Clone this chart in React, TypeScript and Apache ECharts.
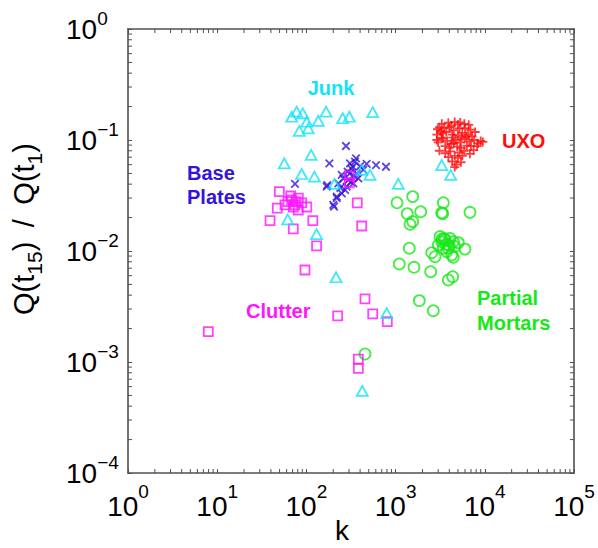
import React, { useEffect, useRef } from 'react';
import * as echarts from 'echarts';

// ---------- data ----------
const junkK = [77.8, 68.4, 91, 101, 136, 166, 255, 303, 554, 83.2, 105, 56.5, 113, 88.5, 123, 206, 417, 516, 1072, 61.7, 130, 3289, 4150, 794, 215, 423];
const junkQ = [0.18, 0.162, 0.174, 0.146, 0.149, 0.18, 0.157, 0.162, 0.178, 0.121, 0.127, 0.0617, 0.0733, 0.0494, 0.0467, 0.0402, 0.0537, 0.0484, 0.0402, 0.0193, 0.0142, 0.0595, 0.0484, 0.00275, 0.0058, 0.00055];

const basePlateK = [278, 181, 360, 308, 330, 474, 603, 780, 74.5, 171, 249, 283, 336, 382, 249, 219, 204, 271, 308, 366, 434, 228, 295, 169, 200, 219, 320, 345, 290, 260, 400, 315, 240, 350];
const basePlateQ = [0.0883, 0.0617, 0.0684, 0.0617, 0.0574, 0.0608, 0.0595, 0.0574, 0.0402, 0.0393, 0.0484, 0.038, 0.0407, 0.0452, 0.0331, 0.0299, 0.0251, 0.0355, 0.0501, 0.0501, 0.0537, 0.0407, 0.0436, 0.038, 0.026, 0.0309, 0.055, 0.047, 0.052, 0.045, 0.058, 0.042, 0.037, 0.064];

const clutterK = [49.7, 66.7, 47.2, 39.1, 71.3, 76.4, 88.5, 101, 71.3, 81.1, 118, 372, 417, 303, 303, 130, 96.4, 454, 224, 554, 807, 382, 382, 7.95, 74.5, 81.1, 68.4, 62.2, 57.5];
const clutterQ = [0.0342, 0.0313, 0.0243, 0.0188, 0.0158, 0.0278, 0.0271, 0.0249, 0.0249, 0.0234, 0.0188, 0.0271, 0.0168, 0.0474, 0.0412, 0.0111, 0.00674, 0.0037, 0.0026, 0.00271, 0.00231, 0.00106, 0.000877, 0.00188, 0.026, 0.0299, 0.0288, 0.0278, 0.026];

const mortarK = [1037, 1555, 1352, 1911, 1555, 1449, 3428, 3289, 3373, 6823, 1425, 1100, 1608, 2473, 2541, 2765, 3148, 3581, 4074, 4436, 5047, 5998, 3012, 3428, 3899, 4256, 4436, 3741, 3289, 3899, 4365, 1845, 2648, 454, 3700, 4000, 3500, 3300, 4600];
const mortarQ = [0.0272, 0.0309, 0.0217, 0.0226, 0.0184, 0.0174, 0.0272, 0.0221, 0.0217, 0.0223, 0.0106, 0.00764, 0.00713, 0.00651, 0.00965, 0.00889, 0.0135, 0.0126, 0.013, 0.0121, 0.0119, 0.0104, 0.0113, 0.0106, 0.0106, 0.0092, 0.00878, 0.00986, 0.0121, 0.00548, 0.00587, 0.00357, 0.0029, 0.00118, 0.0115, 0.0112, 0.013, 0.0128, 0.011];

const uxoK = [
  3300, 3900, 4600, 5300, 5900, 6600, 4200, 5000,
  2950, 3100, 3500, 4000, 4500, 5200, 6000, 6900, 7800, 3300, 4300, 5600, 6500, 2900,
  2900, 3000, 3400, 3800, 4200, 4700, 5300, 5900, 6700, 7600, 8400, 9500, 9000, 3600, 4900, 6300, 8200,
  3100, 3600, 4100, 4600, 5200, 5900, 6800, 7500, 3900, 5000, 5600,
  4300, 4800, 5400, 4600,
  3200, 3700, 4400, 5000, 5500, 6200, 7200, 4000, 5400, 7000, 4500, 3300,
];
const uxoQ = [
  0.14, 0.143, 0.145, 0.144, 0.14, 0.137, 0.135, 0.138,
  0.125, 0.13, 0.128, 0.13, 0.122, 0.127, 0.128, 0.124, 0.118, 0.115, 0.112, 0.116, 0.112, 0.112,
  0.1, 0.095, 0.103, 0.098, 0.092, 0.1, 0.095, 0.102, 0.097, 0.1, 0.093, 0.096, 0.098, 0.088, 0.087, 0.089, 0.088,
  0.08, 0.076, 0.079, 0.072, 0.077, 0.08, 0.075, 0.081, 0.07, 0.069, 0.072,
  0.064, 0.06, 0.063, 0.057,
  0.12, 0.118, 0.105, 0.11, 0.106, 0.108, 0.108, 0.085, 0.085, 0.088, 0.094, 0.105,
];

// axis ranges and minor-tick layout
const X_MIN = 1;
const X_MAX = 100000;
const Y_MIN = 0.0001;
const Y_MAX = 1;
const MINOR_MULT = [2, 3, 4, 5, 6, 7, 8, 9];
const X_DECADES = [1, 10, 100, 1000, 10000];
const Y_DECADES = [0.0001, 0.001, 0.01, 0.1];

const FONT = '"Liberation Sans", Arial, Helvetica, sans-serif';
const C_JUNK = '#10e4f6';
const C_BASE = '#3514da';
const C_CLUT = '#ff14ff';
const C_MORT = '#18e818';
const C_UXO = '#ff0c0c';
const AXIS_C = '#505050';
const MARK_W = 1.8;

const zip = (a: number[], b: number[]) => a.map((v, i) => [v, b[i]]);

const supFmt = (value: number) => {
  const e = Math.round(Math.log10(value));
  const s = e < 0 ? '\u2212' + -e : String(e);
  return `{b|10}{s|${s}}`;
};

export default function App() {
  const ref = useRef<HTMLDivElement>(null);

  useEffect(() => {
    if (!ref.current) return;
    const chart = echarts.init(ref.current, undefined, { renderer: 'svg' });

    const xMinor: number[][] = [];
    X_DECADES.forEach((d) => MINOR_MULT.forEach((m) => xMinor.push([m * d, 1])));
    const yMinor: number[][] = [];
    Y_DECADES.forEach((d) => MINOR_MULT.forEach((m) => yMinor.push([1, m * d])));

    const tickLen = 4;
    const tickStyle = { stroke: AXIS_C, lineWidth: 1 };

    const baseAxisX = {
      type: 'log',
      logBase: 10,
      min: X_MIN,
      max: X_MAX,
      splitNumber: 5,
      axisLine: { show: true, onZero: false, lineStyle: { color: AXIS_C, width: 1.6 } },
      axisTick: { show: true, inside: true, length: tickLen, lineStyle: { color: AXIS_C, width: 1 } },
      splitLine: { show: false },
      minorTick: { show: false },
    };
    const baseAxisY = {
      type: 'log',
      logBase: 10,
      min: Y_MIN,
      max: Y_MAX,
      splitNumber: 4,
      axisLine: { show: true, onZero: false, lineStyle: { color: AXIS_C, width: 1.6 } },
      axisTick: { show: true, inside: true, length: tickLen, lineStyle: { color: AXIS_C, width: 1 } },
      splitLine: { show: false },
      minorTick: { show: false },
    };

    const scatterBase = { type: 'scatter', xAxisIndex: 0, yAxisIndex: 0, silent: true };

    const option: any = {
      animation: false,
      backgroundColor: '#ffffff',
      grid: { left: 128, top: 29, width: 446, height: 444, containLabel: false, outerBoundsMode: 'none' },
      xAxis: [
        {
          ...baseAxisX,
          position: 'bottom',
          axisLabel: {
            margin: 9,
            formatter: supFmt,
            rich: {
              b: { fontSize: 28, lineHeight: 48, fontFamily: FONT, color: '#000' },
              s: { fontSize: 19, lineHeight: 18, verticalAlign: 'top', fontFamily: FONT, color: '#000' },
            },
          },
        },
        { ...baseAxisX, position: 'top', axisLabel: { show: false } },
      ],
      yAxis: [
        {
          ...baseAxisY,
          position: 'left',
          axisLabel: {
            margin: 62,
            align: 'left',
            formatter: supFmt,
            rich: {
              b: { fontSize: 28, lineHeight: 40, fontFamily: FONT, color: '#000' },
              s: { fontSize: 19, lineHeight: 18, verticalAlign: 'top', fontFamily: FONT, color: '#000' },
            },
          },
        },
        { ...baseAxisY, position: 'right', axisLabel: { show: false } },
      ],
      series: [
        {
          type: 'custom',
          xAxisIndex: 0,
          yAxisIndex: 0,
          silent: true,
          z: 1,
          data: xMinor,
          renderItem: (params: any, api: any) => {
            const cs = params.coordSys;
            const p = api.coord([api.value(0), api.value(1)]);
            const yb = cs.y + cs.height;
            return {
              type: 'group',
              children: [
                { type: 'line', shape: { x1: p[0], y1: yb, x2: p[0], y2: yb - tickLen }, style: tickStyle },
                { type: 'line', shape: { x1: p[0], y1: cs.y, x2: p[0], y2: cs.y + tickLen }, style: tickStyle },
              ],
            };
          },
        },
        {
          type: 'custom',
          xAxisIndex: 0,
          yAxisIndex: 0,
          silent: true,
          z: 1,
          data: yMinor,
          renderItem: (params: any, api: any) => {
            const cs = params.coordSys;
            const p = api.coord([api.value(0), api.value(1)]);
            const xr = cs.x + cs.width;
            return {
              type: 'group',
              children: [
                { type: 'line', shape: { x1: cs.x, y1: p[1], x2: cs.x + tickLen, y2: p[1] }, style: tickStyle },
                { type: 'line', shape: { x1: xr, y1: p[1], x2: xr - tickLen, y2: p[1] }, style: tickStyle },
              ],
            };
          },
        },
        {
          ...scatterBase,
          name: 'Partial Mortars',
          data: zip(mortarK, mortarQ),
          symbol: 'circle',
          symbolSize: 11,
          itemStyle: { color: 'rgba(0,0,0,0)', borderColor: C_MORT, borderWidth: MARK_W },
        },
        {
          ...scatterBase,
          name: 'UXO',
          data: zip(uxoK, uxoQ),
          symbol: 'path://M5,0L5,10M0,5L10,5',
          symbolSize: 9,
          itemStyle: { color: 'rgba(0,0,0,0)', borderColor: C_UXO, borderWidth: MARK_W },
        },
        {
          ...scatterBase,
          name: 'Base Plates',
          data: zip(basePlateK, basePlateQ),
          symbol: 'path://M0,0L10,10M10,0L0,10',
          symbolSize: 7.5,
          itemStyle: { color: 'rgba(0,0,0,0)', borderColor: C_BASE, borderWidth: MARK_W },
        },
        {
          ...scatterBase,
          name: 'Clutter',
          data: zip(clutterK, clutterQ),
          symbol: 'rect',
          symbolSize: 9,
          itemStyle: { color: 'rgba(0,0,0,0)', borderColor: C_CLUT, borderWidth: MARK_W },
        },
        {
          ...scatterBase,
          name: 'Junk',
          data: zip(junkK, junkQ),
          symbol: 'triangle',
          symbolSize: [11, 10],
          itemStyle: { color: 'rgba(0,0,0,0)', borderColor: C_JUNK, borderWidth: MARK_W },
        },
      ],
      graphic: [
        {
          type: 'text', x: 331, y: 88,
          style: { text: 'Junk', fill: C_JUNK, font: `bold 20px ${FONT}`, align: 'center', verticalAlign: 'middle', textAlign: 'center', textVerticalAlign: 'middle' },
        },
        {
          type: 'text', x: 187, y: 185,
          style: { text: 'Base\nPlates', fill: C_BASE, font: `bold 20px ${FONT}`, lineHeight: 24, align: 'left', verticalAlign: 'middle', textAlign: 'left', textVerticalAlign: 'middle' },
        },
        {
          type: 'text', x: 502, y: 141,
          style: { text: 'UXO', fill: C_UXO, font: `bold 20px ${FONT}`, align: 'left', verticalAlign: 'middle', textAlign: 'left', textVerticalAlign: 'middle' },
        },
        {
          type: 'text', x: 246, y: 311,
          style: { text: 'Clutter', fill: C_CLUT, font: `bold 20px ${FONT}`, align: 'left', verticalAlign: 'middle', textAlign: 'left', textVerticalAlign: 'middle' },
        },
        {
          type: 'text', x: 477, y: 310,
          style: { text: 'Partial\nMortars', fill: C_MORT, font: `bold 20px ${FONT}`, lineHeight: 25, align: 'left', verticalAlign: 'middle', textAlign: 'left', textVerticalAlign: 'middle' },
        },
        {
          type: 'text', x: 342, y: 530,
          style: { text: 'k', fill: '#000', font: `28px ${FONT}`, align: 'center', verticalAlign: 'middle', textAlign: 'center', textVerticalAlign: 'middle' },
        },
        {
          type: 'text', x: 27, y: 229, rotation: Math.PI / 2,
          style: {
            text: '{b|Q(t}{s|15}{b|)\u2002/\u2002Q(t}{s|1}{b|)}',
            fill: '#000',
            align: 'center', verticalAlign: 'middle', textAlign: 'center', textVerticalAlign: 'middle',
            rich: {
              b: { fontSize: 29, lineHeight: 35, verticalAlign: 'top', fontFamily: FONT, fill: '#000' },
              s: { fontSize: 21, lineHeight: 21, verticalAlign: 'bottom', fontFamily: FONT, fill: '#000' },
            },
          },
        },
      ],
    };

    chart.setOption(option);
    return () => chart.dispose();
  }, []);

  return (
    <div
      ref={ref}
      style={{ position: 'fixed', left: 0, top: 0, width: 598, height: 548, background: '#fff' }}
    />
  );
}
